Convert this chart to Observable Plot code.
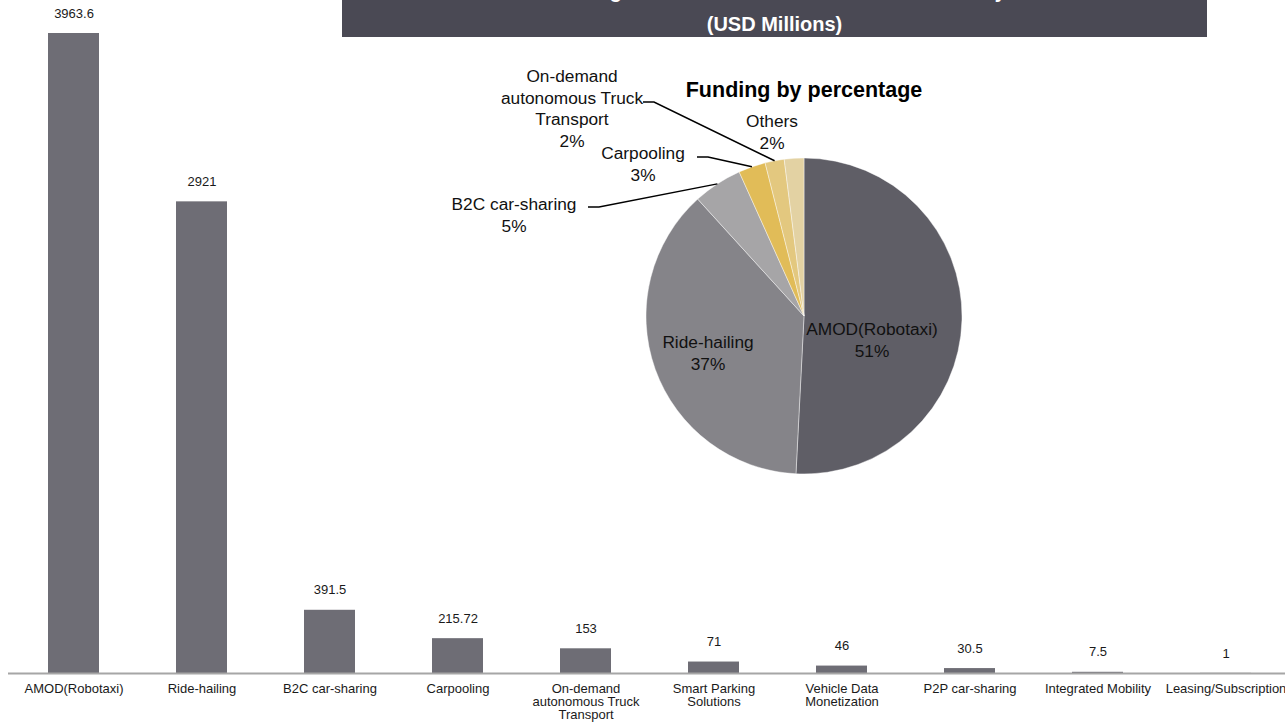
<!DOCTYPE html>
<html>
<head>
<meta charset="utf-8">
<script src="https://cdn.jsdelivr.net/npm/d3@7"></script>
<script src="https://cdn.jsdelivr.net/npm/@observablehq/plot@0.6"></script>
<style>
  body { margin: 0; background: #fff; font-family: "Liberation Sans", Arial, sans-serif; }
  #wrap { position: relative; width: 1285px; height: 724px; overflow: hidden; }
  #title { position: absolute; left: 342px; top: 0; width: 865px; height: 37px; background: #4a4954;
           color: #fff; font-weight: bold; font-size: 20px; text-align: center; overflow: hidden; z-index: 2; }
  #title .l1 { position: absolute; left: 0; right: 0; top: -20px; line-height: 22px; white-space: nowrap; }
  #title .l2 { position: absolute; left: 0; right: 0; top: 13px; line-height: 22px; white-space: nowrap; }
  #chart { position: absolute; left: 0; top: 0; }
</style>
</head>
<body>
<div id="wrap">
  <div id="title"><div class="l1">Funding Raised in the Different Areas of Mobility</div><div class="l2">(USD Millions)</div></div>
  <div id="chart"></div>
</div>
<script>
// ---- data ----
const categories = [
  "AMOD(Robotaxi)", "Ride-hailing", "B2C car-sharing", "Carpooling",
  "On-demand\nautonomous Truck\nTransport", "Smart Parking\nSolutions",
  "Vehicle Data\nMonetization", "P2P car-sharing", "Integrated Mobility", "Leasing/Subscription"
];
const values = [3963.6, 2921, 391.5, 215.72, 153, 71, 46, 30.5, 7.5, 1];
const valueLabels = ["3963.6", "2921", "391.5", "215.72", "153", "71", "46", "30.5", "7.5", "1"];

const pieLabels = ["AMOD(Robotaxi)", "Ride-hailing", "B2C car-sharing", "Carpooling",
                   "On-demand\nautonomous Truck\nTransport", "Others"];
const pieValues = [3963.6, 2921, 391.5, 215.72, 153, 156];
const piePercents = ["51%", "37%", "5%", "3%", "2%", "2%"];
const pieColors = ["#5f5e66", "#858489", "#a6a5a7", "#e1bc58", "#e3c87f", "#e3d2a3"];

const pieTitle = "Funding by percentage";

// ---- layout (positions/styles) ----
const FONT = '"Liberation Sans", Arial, sans-serif';
const barColor = "#6e6d75";
const CX = 804, CY = 316, R = 158;
// label placement relative to pie centre: [dx, dy of first line, leader start or null]
const pieLabelLayout = [
  { dx: 68,   dy: 13,   leader: null },
  { dx: -96,  dy: 26,   leader: null },
  { dx: -290, dy: -112, leader: [-216, -109] },
  { dx: -161, dy: -163, leader: [-107, -159] },
  { dx: -232, dy: -240, leader: [-161, -214] },
  { dx: -32,  dy: -195, leader: null }
];

const data = categories.map((c, i) => ({ category: c, value: values[i], label: valueLabels[i] }));
const pieData = pieLabels.map((l, i) => ({ label: l, value: pieValues[i], pct: piePercents[i] }));

const pieColor = Plot.scale({ color: { type: "ordinal", domain: pieLabels, range: pieColors } });

function pieMark() {
  const g = d3.create("svg:g").attr("transform", `translate(${CX},${CY})`);
  const arcs = d3.pie().sort(null).value(d => d.value)(pieData);
  const arc = d3.arc().innerRadius(0).outerRadius(R);
  g.selectAll("path.slice").data(arcs).join("path")
    .attr("class", "slice")
    .attr("d", arc)
    .attr("fill", d => pieColor.apply(d.data.label))
    .attr("stroke", "#ffffff").attr("stroke-width", 0.6).attr("stroke-opacity", 0.7);

  // leader lines
  arcs.forEach((d, i) => {
    const L = pieLabelLayout[i];
    if (!L.leader) return;
    const a = (d.startAngle + d.endAngle) / 2;
    const ax = R * Math.sin(a), ay = -R * Math.cos(a);
    g.append("path")
      .attr("d", `M${L.leader[0]},${L.leader[1]}h11L${ax},${ay}`)
      .attr("fill", "none").attr("stroke", "#000").attr("stroke-width", 1.5);
  });

  // labels
  arcs.forEach((d, i) => {
    const L = pieLabelLayout[i];
    const lines = d.data.label.split("\n").concat([d.data.pct]);
    const t = g.append("text")
      .attr("text-anchor", "middle")
      .attr("font-family", FONT).attr("font-size", 17.3).attr("fill", "#111");
    lines.forEach((s, j) => {
      t.append("tspan").attr("x", L.dx).attr("y", L.dy + j * 21.5).attr("dy", "0.35em").text(s);
    });
  });

  g.append("text")
    .attr("x", 0).attr("y", -227).attr("dy", "0.35em")
    .attr("text-anchor", "middle")
    .attr("font-family", FONT).attr("font-size", 21.5).attr("font-weight", "bold").attr("fill", "#000")
    .text(pieTitle);
  return g.node();
}

const chart = Plot.plot({
  width: 1285,
  height: 724,
  marginTop: 33,
  marginBottom: 51,
  marginLeft: 8,
  marginRight: 0,
  style: { fontFamily: FONT, fontSize: "13px", color: "#1a1a1a", background: "transparent", overflow: "visible" },
  x: { domain: categories, range: [10, 1290], paddingInner: 0.6, paddingOuter: 0.3, label: null },
  y: { domain: [0, d3.max(values)], axis: null },
  marks: [
    Plot.barY(data, { x: "category", y: "value", fill: barColor }),
    Plot.ruleY([0], { stroke: "#a6a6a6", strokeWidth: 2 }),
    Plot.text(data, { x: "category", y: "value", text: "label", dy: -20, fill: "#1a1a1a", fontSize: 13 }),
    Plot.axisX({ tickSize: 0, tickPadding: 10, lineHeight: 1, fontSize: 13, label: null, fill: "#1a1a1a" }),
    pieMark
  ]
});
document.getElementById("chart").appendChild(chart);
</script>
</body>
</html>
